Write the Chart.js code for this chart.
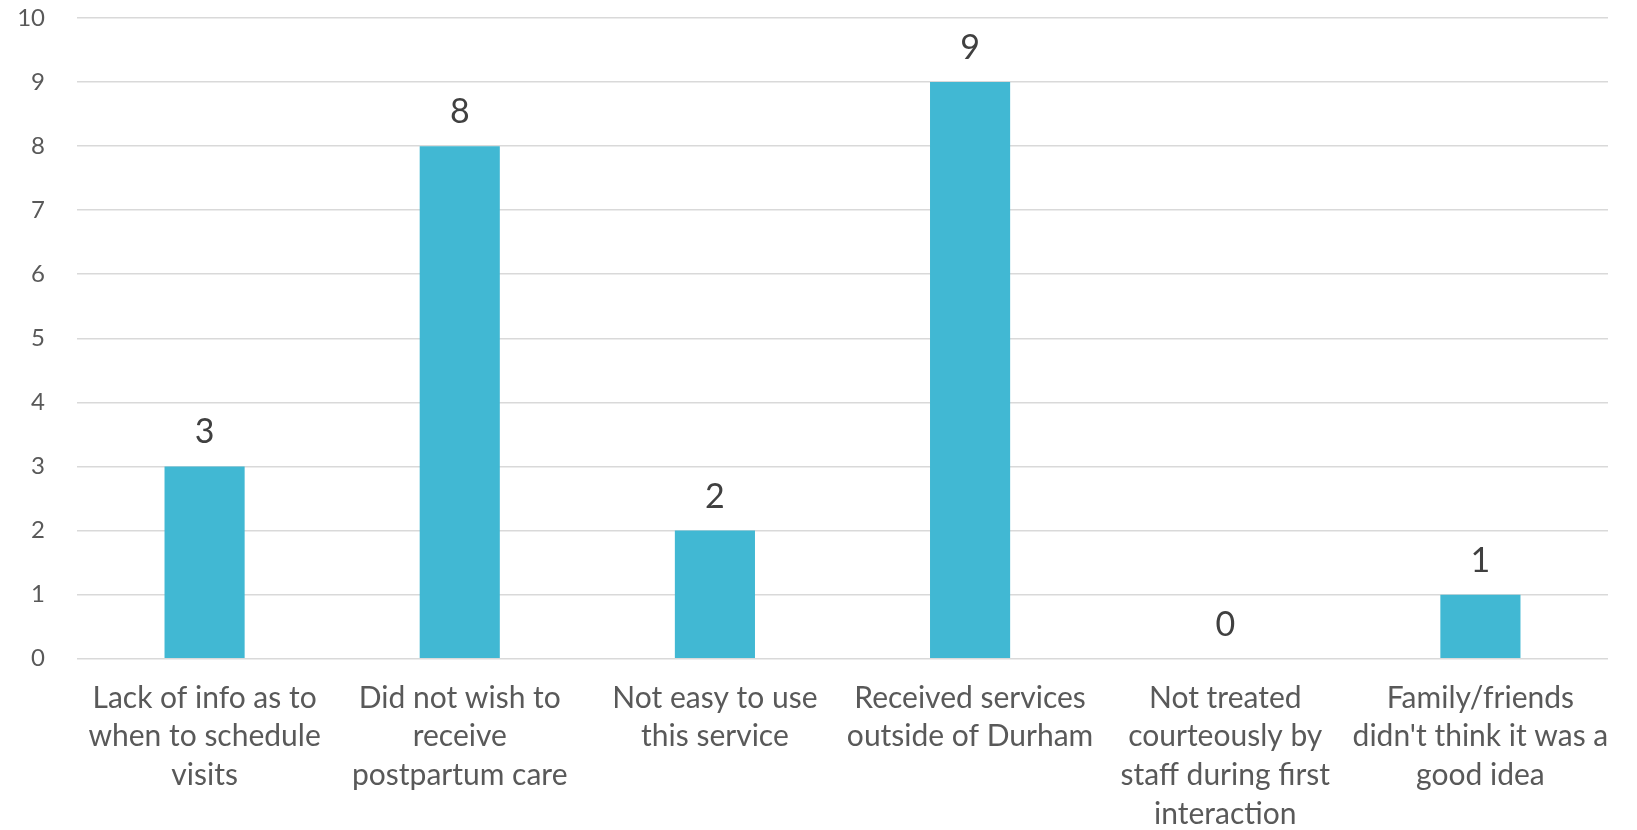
<!DOCTYPE html>
<html>
<head>
<meta charset="utf-8">
<script src="https://cdn.jsdelivr.net/npm/chart.js@4/dist/chart.umd.min.js"></script>
<style>
  html, body { margin: 0; padding: 0; background: #ffffff; }
  #wrap { width: 1637px; height: 830px; position: relative; }
</style>
</head>
<body>
<div id="wrap"><canvas id="c"></canvas></div>
<script>
const categories = [
  ["Lack of info as to", "when to schedule", "visits"],
  ["Did not wish to", "receive", "postpartum care"],
  ["Not easy to use", "this service"],
  ["Received services", "outside of Durham"],
  ["Not treated", "courteously by", "staff during first", "interaction"],
  ["Family/friends", "didn't think it was a", "good idea"]
];
const counts = [3, 8, 2, 9, 0, 1];
const yMin = 0;
const yMax = 10;
const yStep = 1;

const FONT = "Lato, 'Open Sans', sans-serif";

const dataLabels = {
  id: 'dataLabels',
  afterDatasetsDraw(chart) {
    const ctx = chart.ctx;
    const meta = chart.getDatasetMeta(0);
    ctx.save();
    ctx.font = "34px " + FONT;
    ctx.fillStyle = '#404040';
    ctx.textAlign = 'center';
    ctx.textBaseline = 'alphabetic';
    meta.data.forEach((bar, i) => {
      ctx.fillText(String(counts[i]), bar.x, bar.y - 23);
    });
    ctx.restore();
  }
};

new Chart(document.getElementById('c'), {
  type: 'bar',
  data: {
    labels: categories,
    datasets: [{
      data: counts,
      backgroundColor: '#41B8D3',
      borderWidth: 0,
      barPercentage: 0.314,
      categoryPercentage: 1.0
    }]
  },
  options: {
    responsive: true,
    maintainAspectRatio: false,
    animation: false,
    layout: { padding: { top: 18, right: 29, bottom: 0, left: 0 } },
    plugins: {
      legend: { display: false },
      tooltip: { enabled: false }
    },
    scales: {
      x: {
        grid: { display: false, drawTicks: false },
        border: { display: false },
        ticks: {
          color: '#595959',
          font: { family: FONT, size: 30, lineHeight: 1.29 },
          padding: 20,
          maxRotation: 0,
          autoSkip: false
        },
        afterFit(scale) {
          scale.height = 171.3;
          scale.paddingLeft = 0; scale.paddingRight = 0;
          scale.paddingTop = 0; scale.paddingBottom = 0;
        }
      },
      y: {
        min: yMin,
        max: yMax,
        grid: { color: '#d9d9d9', lineWidth: 1.6, drawTicks: false },
        border: { display: false },
        ticks: {
          stepSize: yStep,
          color: '#595959',
          font: { family: FONT, size: 24 },
          padding: 32
        },
        afterFit(scale) {
          scale.width = 77;
          scale.paddingTop = 0; scale.paddingBottom = 0;
          scale.paddingLeft = 0; scale.paddingRight = 0;
        }
      }
    }
  },
  plugins: [dataLabels]
});
</script>
</body>
</html>
